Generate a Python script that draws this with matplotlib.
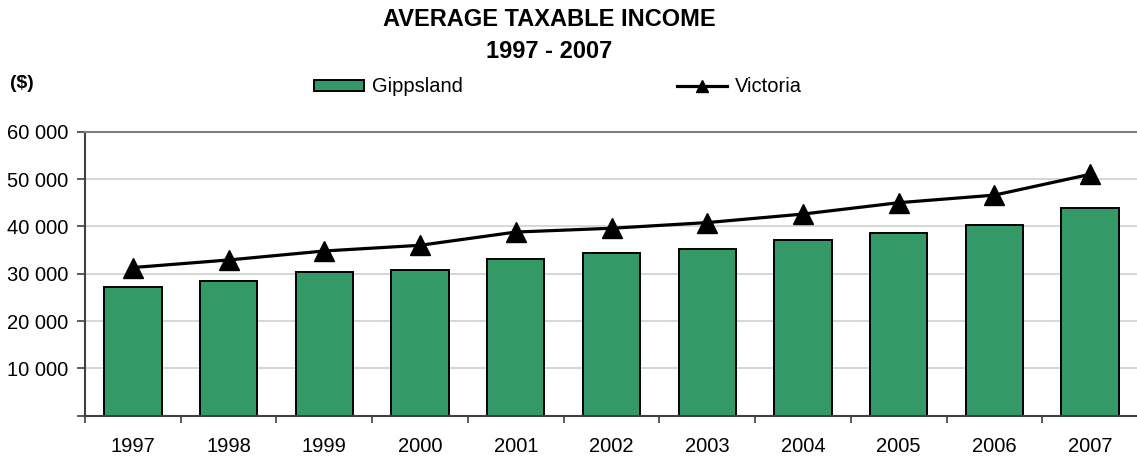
import matplotlib
matplotlib.use("Agg")
import matplotlib.pyplot as plt
from matplotlib.ticker import FixedLocator, FuncFormatter
from matplotlib.lines import Line2D
from matplotlib.patches import Patch

plt.rcParams["font.family"] = ["Liberation Sans", "DejaVu Sans"]

years = ["1997", "1998", "1999", "2000", "2001", "2002",
         "2003", "2004", "2005", "2006", "2007"]
gippsland = [27200, 28500, 30400, 30800, 33200, 34400,
             35200, 37100, 38700, 40300, 43800]
victoria = [31300, 32900, 34800, 36000, 38800, 39600,
            40800, 42600, 45000, 46600, 51000]

GREEN = "#339966"
W, H = 1137, 457

fig = plt.figure(figsize=(W / 100, H / 100), dpi=100)
ax = fig.add_axes([85 / W, 41.3 / H, (1138 - 85) / W, 284 / H])

x = list(range(len(years)))
ax.bar(x, gippsland, width=0.6, color=GREEN, edgecolor="black",
       linewidth=1.4, zorder=2)
ax.plot(x, victoria, color="black", lw=2.3, marker="^", ms=15,
        zorder=3)

ax.set_xlim(-0.5, len(years) - 0.5)
ax.set_ylim(0, 60000)

# y axis
ax.set_yticks(range(0, 60001, 10000))
ax.yaxis.set_major_formatter(FuncFormatter(
    lambda v, p: "" if v == 0 else f"{int(v):,}".replace(",", " ")))
ax.tick_params(axis="y", length=6, width=1.2, color="#404040",
               pad=6, labelsize=14.5)
ax.grid(axis="y", color="#d0d0d0", lw=1.2, zorder=0)

# x axis: labels at centres, tick marks at category boundaries
ax.set_xticks(x)
ax.set_xticklabels(years)
ax.tick_params(axis="x", which="major", length=0, pad=15.5, labelsize=14.5)
ax.xaxis.set_minor_locator(FixedLocator([i - 0.5 for i in range(len(years) + 1)]))
ax.tick_params(axis="x", which="minor", length=5, width=1.2, color="#404040")

for side in ("left", "bottom"):
    ax.spines[side].set_color("#404040")
    ax.spines[side].set_linewidth(1.5)
ax.spines["top"].set_color("#808080")
ax.spines["top"].set_linewidth(1.5)
ax.spines["right"].set_visible(False)

fig.text(549 / W, 1 - 20 / H, "AVERAGE TAXABLE INCOME", ha="center",
         va="center", fontsize=17, fontweight="bold")
fig.text(549 / W, 1 - 51 / H, "1997 - 2007", ha="center",
         va="center", fontsize=17, fontweight="bold")
fig.text(10 / W, 1 - 83 / H, "($)", ha="left", va="center",
         fontsize=14, fontweight="bold")

handles = [
    Patch(facecolor=GREEN, edgecolor="black", linewidth=1.4),
    Line2D([], [], color="black", lw=2.3, marker="^", ms=9),
]
fig.legend(handles, ["Gippsland", "Victoria"], loc="center",
           bbox_to_anchor=(558 / W, 1 - 87 / H), ncol=2, frameon=False,
           fontsize=14.5, handlelength=2.5, handleheight=0.42,
           handletextpad=0.4, columnspacing=10.6, borderpad=0)

fig.savefig("out.png", dpi=100)
